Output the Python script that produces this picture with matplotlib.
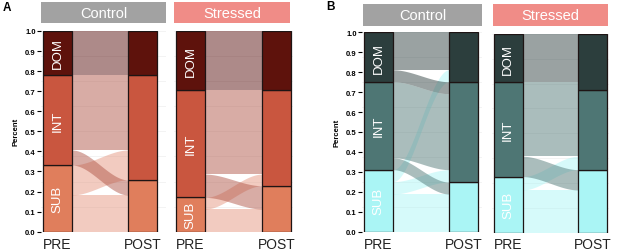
import numpy as np
import matplotlib
matplotlib.use("Agg")
import matplotlib.pyplot as plt
from matplotlib.patches import Rectangle

plt.rcParams['font.family'] = ['Liberation Sans', 'DejaVu Sans']

# ---------------- data ----------------
strata = ["SUB", "INT", "DOM"]          # bottom -> top
times = ["PRE", "POST"]
groups = ["Control", "Stressed"]

# transition proportions: rows = PRE stratum, cols = POST stratum (SUB, INT, DOM)
A_control = [[0.183, 0.149, 0.000],
             [0.075, 0.374, 0.000],
             [0.000, 0.000, 0.219]]
A_stressed = [[0.113, 0.058, 0.000],
              [0.116, 0.420, 0.000],
              [0.000, 0.000, 0.293]]
B_control = [[0.189, 0.062, 0.060],
             [0.060, 0.381, 0.000],
             [0.000, 0.060, 0.188]]
B_stressed = [[0.216, 0.067, 0.000],
              [0.102, 0.332, 0.039],
              [0.000, 0.000, 0.244]]

yticks = [0.0, 0.1, 0.2, 0.3, 0.4, 0.5, 0.6, 0.7, 0.8, 0.9, 1.0]

colors_A = ["#E07E5C", "#C9563F", "#5E120C"]
flow_A = ["#E4937C", "#AE5244", "#550A08"]
colors_B = ["#AAF5F5", "#4E7674", "#2C3E3D"]
flow_B = ["#AAF5F5", "#4E7674", "#2C3E3D"]
strip_colors = {"Control": "#A2A2A2", "Stressed": "#F08C87"}

W, H = 617, 253
fig = plt.figure(figsize=(W / 100, H / 100), dpi=100)


def fx(px):
    return px / W


def fy(py):
    return 1 - py / H


def smooth(t):
    return t * t * (3 - 2 * t)


def draw_panel(mat, cols, fcols, pre_c, post_c, axl, axr, yt, yb, first, strip, strip_label, xpad):
    mat = np.array(mat)
    ax = fig.add_axes([fx(axl), fy(yb), fx(axr - axl), (yb - yt) / H])
    s = post_c - pre_c
    ax.set_xlim((axl - pre_c) / s, (axr - pre_c) / s)
    ax.set_ylim(0, 1)
    hw = 14.5 / s
    for sp in ax.spines.values():
        sp.set_visible(False)
    for g in np.arange(0, 1.01, 0.125):
        ax.axhline(g, color="#EEEEEE", lw=0.5, zorder=0)
    pre_tot = mat.sum(axis=1)
    post_tot = mat.sum(axis=0)
    pre_base = np.concatenate([[0], np.cumsum(pre_tot)[:-1]])
    post_base = np.concatenate([[0], np.cumsum(post_tot)[:-1]])
    t = np.linspace(0, 1, 100)
    xs = hw + (1 - 2 * hw) * t
    for i in range(3):
        for j in range(3):
            v = mat[i, j]
            if v <= 0:
                continue
            y0 = pre_base[i] + mat[i, :j].sum()
            y1 = post_base[j] + mat[:i, j].sum()
            low = y0 + (y1 - y0) * smooth(t)
            ax.fill_between(xs, low, low + v, color=fcols[i], alpha=0.48, lw=0, zorder=1)
    for k, (tot, base) in enumerate([(pre_tot, pre_base), (post_tot, post_base)]):
        for i in range(3):
            ax.add_patch(Rectangle((k - hw, base[i]), 2 * hw, tot[i], facecolor=cols[i],
                                   edgecolor="#1E1414", lw=0.9, zorder=3))
    for i in range(3):
        ax.text(0, pre_base[i] + pre_tot[i] / 2, strata[i], rotation=90, color="white",
                ha="center", va="center", fontsize=9.5, zorder=4)
    ax.set_xticks([0, 1])
    ax.set_xticklabels(times, fontsize=10, color="#222222")
    ax.tick_params(axis="x", length=0, pad=xpad)
    if first:
        ax.set_yticks(yticks)
        ax.set_yticklabels(["%.1f" % v for v in yticks], fontsize=5.5, fontweight="bold")
        ax.tick_params(axis="y", length=3, width=0.8, pad=0.8, color="black")
    else:
        ax.set_yticks([])
    sx0, sx1, sy0, sy1 = strip
    fig.patches.append(Rectangle((fx(sx0), fy(sy1)), fx(sx1 - sx0), (sy1 - sy0) / H,
                                 transform=fig.transFigure, facecolor=strip_colors[strip_label],
                                 edgecolor="none"))
    fig.text(fx((sx0 + sx1) / 2), fy((sy0 + sy1) / 2), strip_label, color="white",
             fontsize=10.5, ha="center", va="center")
    return ax


draw_panel(A_control, colors_A, flow_A, 57.5, 142.5, 41, 166, 32, 232.7, True, (41, 166, 3, 24), groups[0], 4)
draw_panel(A_stressed, colors_A, flow_A, 190.5, 276.5, 174, 293, 32, 232.7, False, (174, 290, 3, 24), groups[1], 4)
draw_panel(B_control, colors_B, flow_B, 378.5, 463.5, 362, 482, 33.3, 232.7, True, (363, 482, 5, 27), groups[0], 4)
draw_panel(B_stressed, colors_B, flow_B, 508, 592.5, 492, 609, 34.7, 234, False, (493, 608, 5, 27), groups[1], 3)

fig.text(fx(15.5), fy(132), "Percent", rotation=90, fontsize=5.5, fontweight="bold",
         ha="center", va="center")
fig.text(fx(337), fy(133), "Percent", rotation=90, fontsize=5.5, fontweight="bold",
         ha="center", va="center")
fig.text(fx(3), fy(8), "A", fontsize=8.5, fontweight="bold", ha="left", va="center")
fig.text(fx(326), fy(7), "B", fontsize=8.5, fontweight="bold", ha="left", va="center")

fig.savefig("out.png", dpi=100)
